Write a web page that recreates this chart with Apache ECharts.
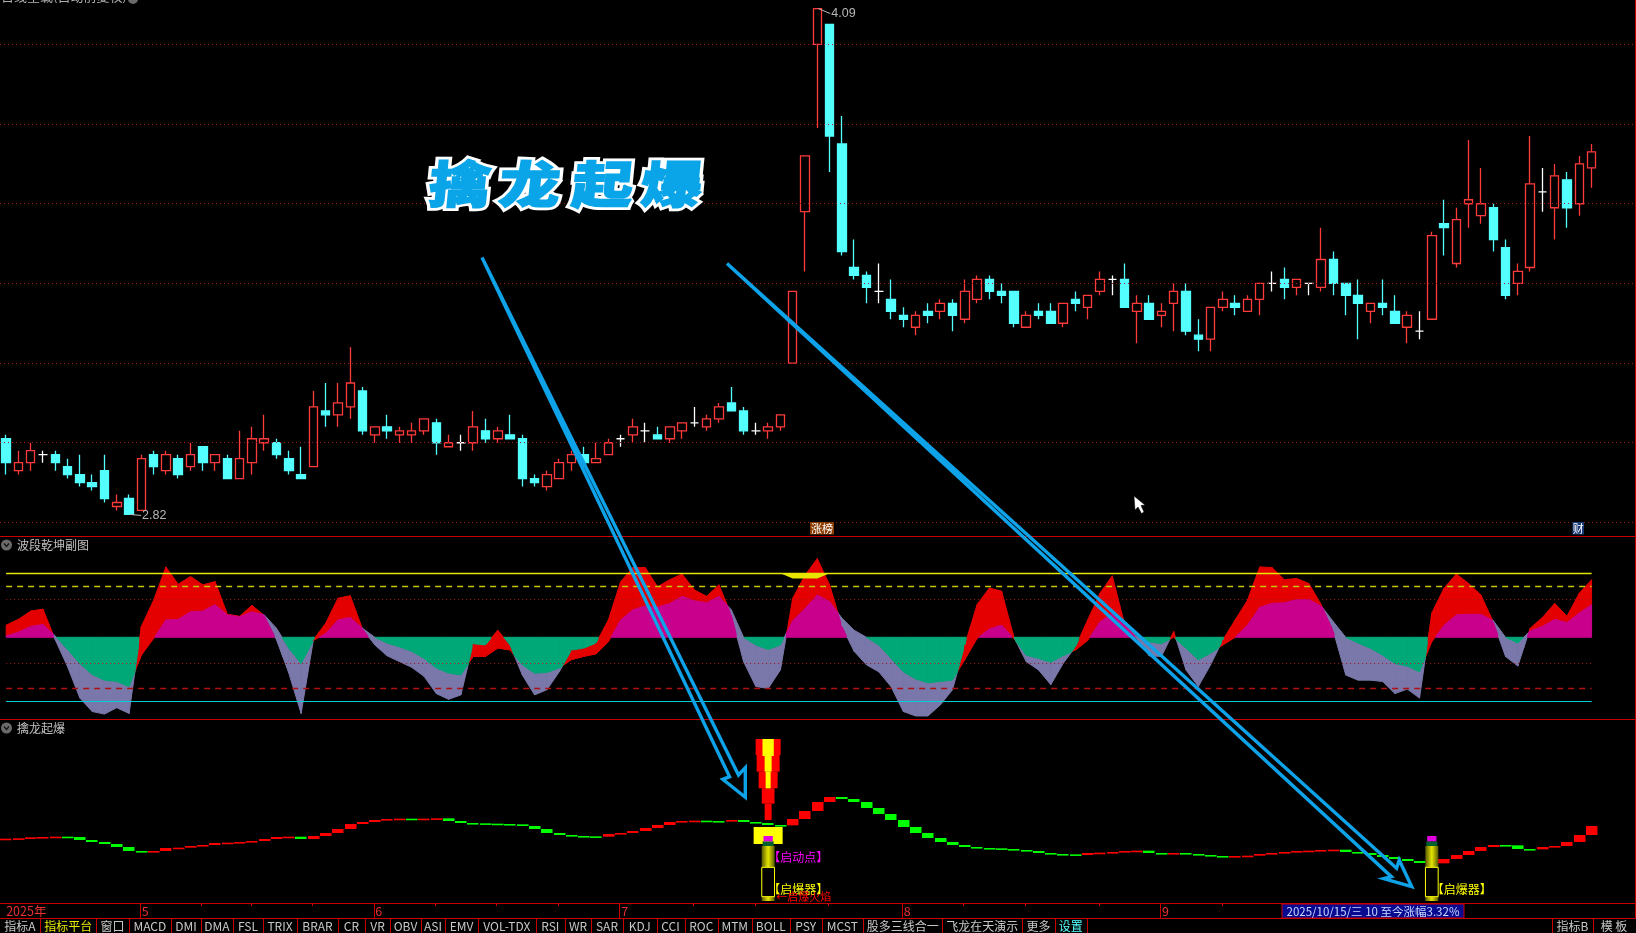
<!DOCTYPE html>
<html><head><meta charset="utf-8">
<style>html,body{margin:0;padding:0;background:#000;overflow:hidden}#c{width:1636px;height:933px}</style>
<script src="https://cdn.jsdelivr.net/npm/echarts@6/dist/echarts.min.js"></script>
</head><body><div id="c"></div>
<script>
// ---- price candles (in fen)
const openFen=[301,293,295,297,297,294,292,290,293,284,
286,283,297,293,296,294,299,295,296,291,
295,300,300,296,292,294,308,307,309,313,
302,304,302,302,303,305,299,300,300,303,
301,302,301,291,289,291,295,297,295,297,
301,302,303,302,301,303,305,304,306,310,
308,303,303,304,320,358,400,405,375,344,
342,338,336,332,329,333,333,335,331,336,
341,338,338,329,333,333,330,336,334,338,
341,341,333,335,332,335,338,327,326,334,
335,333,336,340,341,339,340,339,346,340,
337,333,335,333,329,328,331,355,345,360,
357,359,349,340,344,363,359,366,360,369];
const closeFen=[295,295,298,297,295,292,290,289,286,285,
282,296,294,297,292,297,295,297,291,296,
301,301,297,293,291,309,307,310,315,303,
304,303,303,303,306,300,300,300,304,301,
303,301,291,290,292,295,297,295,296,300,
301,304,303,301,304,305,305,306,309,308,
303,303,304,307,338,372,409,377,348,342,
339,338,333,331,332,332,335,332,338,341,
338,337,330,332,332,330,335,335,337,341,
341,334,335,331,333,338,328,326,334,336,
334,336,340,340,339,341,340,346,340,337,
335,335,334,330,332,328,352,354,356,361,
360,351,337,343,365,363,367,359,370,373];
const lowFen=[292,292,293,295,293,291,289,288,285,283,
282,283,292,292,291,293,293,293,291,291,
292,298,296,292,291,294,304,304,306,302,
300,301,300,300,302,297,299,298,298,300,
300,301,289,289,288,291,293,294,295,297,
299,300,300,301,300,301,304,303,305,308,
302,302,301,303,320,343,379,368,347,341,
335,335,331,329,327,330,331,328,330,335,
336,335,329,329,331,330,329,333,331,337,
337,334,325,331,329,328,327,323,323,333,
332,333,332,338,336,337,337,338,337,332,
326,330,332,330,325,326,331,347,344,354,
355,348,336,337,343,358,351,354,357,364];
const highFen=[302,298,300,298,298,296,297,292,297,287,
287,297,298,298,297,300,299,297,297,303,
304,307,301,298,299,313,315,315,324,314,
304,307,304,305,306,306,302,302,308,306,
304,307,302,292,293,296,298,299,300,301,
302,306,305,304,304,305,309,307,310,314,
309,305,305,307,338,372,409,405,382,351,
343,345,341,334,333,335,336,336,341,342,
342,340,338,333,335,335,335,338,337,343,
342,345,337,337,335,340,340,331,334,338,
337,337,340,343,344,341,340,354,348,340,
341,335,341,337,333,333,353,361,359,376,
369,360,351,345,377,369,370,368,372,375];
const priceLevels=[4.0,3.8,3.6,3.4,3.2,3.0,2.8];
const priceNoteIdx=[10,66];
const priceNoteValue=[2.82,4.09];
const priceNoteText=['2.82','4.09'];

// ---- 波段乾坤副图
const waveFast=[19,28,41,44,-4,-46,-95,-116,-120,-110,-119,17,58,110,83,95,82,87,36,33,50,34,-4,-56,-119,-4,22,61,65,13,
-12,-29,-38,-47,-61,-88,-97,-90,-10,-12,11,-12,-59,-90,-82,-54,-20,-17,-9,27,87,109,109,79,90,99,74,64,82,35,
-38,-77,-80,-51,61,97,123,82,17,-22,-43,-54,-77,-116,-123,-123,-106,-82,-12,51,77,72,0,-38,-51,-74,-41,-15,27,69,
96,21,-2,-29,-30,9,-51,-77,-43,-4,27,58,110,109,90,92,84,51,9,-59,-67,-67,-69,-88,-81,-95,38,77,99,84,
66,24,-30,-45,14,31,53,33,69,90];
const waveSlow=[2,8,17,20,2,-19,-41,-58,-67,-69,-77,-28,-2,27,28,40,41,51,35,32,40,35,14,-17,-41,-5,6,27,31,14,
0,-9,-15,-22,-33,-48,-56,-59,-30,-30,-17,-20,-43,-56,-55,-48,-35,-30,-26,-7,27,43,49,47,53,64,57,54,64,43,
0,-12,-19,-12,26,45,66,56,30,11,0,-12,-33,-54,-65,-71,-69,-67,-35,-2,13,19,-2,-28,-33,-39,-29,-20,-5,24,
38,22,1,-7,-10,0,-17,-35,-25,-12,0,19,47,53,54,59,59,49,24,0,-9,-17,-28,-41,-45,-54,-7,19,35,36,
36,26,0,-9,10,17,28,23,38,51];
const waveLevelsBack=[60,-40];
const waveLevelsFront=[100,80,-80,-100];
const patchIdx=[63,64,65,66,67];
const patchTop=[100,100,100,100,100];
const patchBottom=[100,92,92,92,100];

// ---- 擒龙起爆
const dragonLine=[193,194,197,198,199,198,189,183,177,168,156,155,156,165,166,171,174,180,181,183,186,192,198,199,192,201,210,222,237,243,
249,252,253,252,253,254,246,240,239,238,237,236,231,222,210,204,201,200,199,207,210,216,225,234,243,246,247,246,245,249,
243,240,234,233,252,276,303,318,312,303,285,267,249,228,210,195,183,174,168,165,164,162,159,156,150,147,146,144,150,151,
153,156,157,150,149,150,147,144,141,140,141,142,147,150,153,156,157,159,160,153,150,144,138,132,126,120,119,132,144,156,
168,174,173,162,161,168,171,183,204,231];
const flameIdx=[62,62,62,62,62,62,62,62];
const flameLow=[444,394,344,298,249,441,394,344];
const flameHigh=[492,444,394,344,298,492,441,394];
const capIdx=[62];
const capLow=[177];
const capHigh=[228];
const fuseIdx=[62,116];
const fuseGoldLow=[6,6];
const fuseGoldHigh=[171,171];
const fuseBoxLow=[19,19];
const fuseBoxHigh=[107,107];
const fuseTipLow=[171,171];
const fuseTipHigh=[185,185];
const fuseTopLow=[185,185];
const fuseTopHigh=[201,201];
const signalNoteIdx=[62,62,62,116];
const signalNoteValue=[138,42,19,42];
const signalNoteText=['【启动点】','【启爆器】','←启爆火焰','【启爆器】'];

// ---- axis and labels
const categoryCount=133;
const monthLabelIdx=[0,11,30,50,73,94];
const monthLabelText=['2025年','5','6','7','8','9'];
const monthTickIdx=[11,30,50,73,94,104];
const weekTickIdx=[16,20,25,35,40,45,56,61,67,78,83,89,99];
const tabLabels=['指标A','指标平台','窗口','MACD','DMI','DMA','FSL','TRIX','BRAR','CR','VR','OBV','ASI','EMV','VOL-TDX','RSI','WR','SAR','KDJ','CCI','ROC','MTM','BOLL','PSY','MCST','股多三线合一','飞龙在天演示','更多','设置'];
const tabEdges=[0,40,96.3,128.6,171,200.8,233,263,297,338,365,390,421,445,478,535.5,565,591,623,656.5,684.5,718,751.5,790,821.5,863,942.3,1022,1055,1086.5];
const rightTabLabels=['指标B','模 板'];
const rightTabEdges=[1552,1593,1635];
const rangeText='2025/10/15/三 10 至今涨幅3.32%';

// ---- styles
const CJK='"Noto Sans CJK SC","Liberation Sans",sans-serif';
const RED_LINE='#c80000', GRID_DOT='#a81616';
const cats=Array.from({length:categoryCount},(_,i)=>String(i));
const candleData=openFen.map((o,i)=>[o/100,closeFen[i]/100,lowFen[i]/100,highFen[i]/100]);
const gridLeft=-2,gridWidth=1636.6;

function hiddenX(idx,extra){return Object.assign({type:'category',gridIndex:idx,data:cats,boundaryGap:true,
  axisLine:{show:false},axisTick:{show:false},axisLabel:{show:false},splitLine:{show:false}},extra||{});}
function hiddenY(idx,min,max){return {type:'value',gridIndex:idx,min,max,show:false,splitLine:{show:false}};}

// wave band drawing: split a segment where lines cross each other or zero
function waveItem(params,api){
  const i=params.dataIndex;
  const a0=waveFast[i],a1=waveFast[i+1],b0=waveSlow[i],b1=waveSlow[i+1];
  const x0=api.coord([i,0])[0],x1=api.coord([i+1,0])[0];
  const y=v=>api.coord([i,v])[1];
  const ts=[0,1];
  const cross=(p,q)=>{if(p*q<0)ts.push(p/(p-q));};
  cross(a0-b0,a1-b1);cross(a0,a1);cross(b0,b1);
  ts.sort((m,n)=>m-n);
  const kids=[];
  const poly=(pts,c)=>kids.push({type:'polygon',shape:{points:pts},style:{fill:c,stroke:c,lineWidth:1}});
  for(let k=0;k<ts.length-1;k++){
    const t0=ts[k],t1=ts[k+1];if(t1-t0<1e-6)continue;
    const A=t=>a0+(a1-a0)*t,B=t=>b0+(b1-b0)*t,X=t=>x0+(x1-x0)*t;
    const tm=(t0+t1)/2,am=A(tm),bm=B(tm);
    poly([[X(t0),y(A(t0))],[X(t1),y(A(t1))],[X(t1),y(B(t1))],[X(t0),y(B(t0))]],am>=bm?'#e40000':'#7a78aa');
    if(am>0&&bm>0){
      const useA=am<bm;const F=useA?A:B;
      poly([[X(t0),y(0)],[X(t1),y(0)],[X(t1),y(F(t1))],[X(t0),y(F(t0))]],'#c8008c');
    }else if(am<0&&bm<0){
      const useA=am>bm;const F=useA?A:B;
      poly([[X(t0),y(0)],[X(t1),y(0)],[X(t1),y(F(t1))],[X(t0),y(F(t0))]],'#00a878');
    }
  }
  return {type:'group',children:kids};
}
// one stick between two values, at a category, with a given pixel width
function stick(api,idx,lo,hi,w,style){
  const c0=api.coord([idx,lo]),c1=api.coord([idx,hi]);
  return {type:'rect',shape:{x:c0[0]-w/2,y:c1[1],width:w,height:c0[1]-c1[1]},style};
}
const flameStyle=[['#ff0000',25],['#ff0000',23],['#ff0000',19],['#ff0000',12.7],['#ff0000',7],['#ffff00',11.3],['#ffff00',7],['#ffff00',5]];
const goldFill=new echarts.graphic.LinearGradient(0,0,1,0,[{offset:0,color:'#5a5a00'},{offset:0.5,color:'#e6e600'},{offset:1,color:'#5a5a00'}]);
const noteStyle=[['#ff00ff',0],['#ffff00',0],['#ff0000',8],['#ffff00',0]];

const option={
  animation:false,backgroundColor:'#000',
  grid:[
    {left:gridLeft,width:gridWidth,top:0,height:536},
    {left:gridLeft,width:gridWidth,top:536,height:183},
    {left:gridLeft,width:gridWidth,top:719,height:184},
    {left:gridLeft,width:gridWidth,top:903,height:15}
  ],
  xAxis:[hiddenX(0),hiddenX(1),hiddenX(2),hiddenX(3)],
  yAxis:[hiddenY(0,2.7659,4.1115),hiddenY(1,-127.7,158.3),hiddenY(2,0,552),hiddenY(3,0,1)],
  series:[
    {type:'line',xAxisIndex:0,yAxisIndex:0,data:[],z:1,silent:true,
      markLine:{silent:true,symbol:'none',animation:false,label:{show:false},
        lineStyle:{color:GRID_DOT,type:[1,3],width:1},data:priceLevels.map(v=>({yAxis:v}))}},
    {type:'candlestick',xAxisIndex:0,yAxisIndex:0,data:candleData,barWidth:9,z:2,
      itemStyle:{color:'#000',color0:'#54ffff',borderColor:'#ff3a3a',borderColor0:'#54ffff',borderColorDoji:'#ffffff',borderWidth:1.3}},
    {type:'custom',xAxisIndex:0,yAxisIndex:0,z:3,data:priceNoteIdx.map(i=>[i]),clip:false,silent:true,
      renderItem(params,api){const k=params.dataIndex;const c=api.coord([priceNoteIdx[k],priceNoteValue[k]]);
        const dx=k===0?13:14,dy=k===0?1:5;
        return {type:'group',children:[
          {type:'line',shape:{x1:c[0]+1,y1:c[1],x2:c[0]+dx-1,y2:c[1]+dy},style:{stroke:'#b8b8b8',lineWidth:1}},
          {type:'text',x:c[0]+dx,y:c[1]+dy,style:{text:priceNoteText[k],fill:'#b8b8b8',font:'12.5px "Liberation Sans"',verticalAlign:'middle'}}]};}},

    {type:'line',xAxisIndex:1,yAxisIndex:1,data:[],z:1,silent:true,
      markLine:{silent:true,symbol:'none',animation:false,label:{show:false},
        lineStyle:{color:GRID_DOT,type:[1,3],width:1},
        data:waveLevelsBack.map(v=>[{coord:[0,v]},{coord:[129,v]}])}},
    {type:'custom',xAxisIndex:1,yAxisIndex:1,z:2,clip:false,silent:true,data:waveFast.slice(0,-1).map((v,i)=>[i,v]),renderItem:waveItem},
    {type:'custom',xAxisIndex:1,yAxisIndex:1,z:3,clip:false,silent:true,data:[[patchIdx[0],patchTop[0]]],
      renderItem(params,api){
        const pts=patchIdx.map((x,k)=>api.coord([x,patchTop[k]])).concat(patchIdx.map((x,k)=>api.coord([x,patchBottom[k]])).reverse());
        return {type:'polygon',shape:{points:pts},style:{fill:'#e6e600'}};}},
    {type:'line',xAxisIndex:1,yAxisIndex:1,data:[],z:4,silent:true,
      markLine:{silent:true,symbol:'none',animation:false,label:{show:false},
        data:waveLevelsFront.map((v,k)=>{
          const st=[{color:'#e6e600',type:'solid',width:1.3},{color:'#c8c800',type:[6,5],width:1.3},{color:'#b01010',type:[6,5],width:1.3},{color:'#00d0d8',type:'solid',width:1.2}][k];
          return [{coord:[0,v],lineStyle:st},{coord:[129,v]}];})}},

    {type:'custom',xAxisIndex:2,yAxisIndex:2,z:2,clip:false,silent:true,data:dragonLine.map((v,i)=>[i,v]),
      renderItem(params,api){const i=params.dataIndex;const cur=dragonLine[i];const prev=i?dragonLine[i-1]:cur;
        const c=api.coord([i,cur]),p=api.coord([i,prev]);
        const top=Math.min(c[1],p[1]);let h=Math.abs(c[1]-p[1]);if(h<1.6)h=1.6;
        const up=i===0?true:cur>prev;
        return {type:'rect',shape:{x:Math.round(c[0]-5.7),y:top,width:11.5,height:h},style:{fill:up?'#ff0000':'#00ff00'}};}},
    {type:'custom',xAxisIndex:2,yAxisIndex:2,z:3,clip:false,silent:true,data:[[62,0]],
      renderItem(params,api){
        const kids=[];
        capIdx.forEach((x,k)=>kids.push(stick(api,x,capLow[k],capHigh[k],29,{fill:'#ffff00'})));
        flameIdx.forEach((x,k)=>kids.push(stick(api,x,flameLow[k],flameHigh[k],flameStyle[k][1],{fill:flameStyle[k][0]})));
        fuseIdx.forEach((x,k)=>{
          kids.push(stick(api,x,fuseGoldLow[k],fuseGoldHigh[k],13,{fill:goldFill}));
          kids.push(stick(api,x,fuseTipLow[k],fuseTipHigh[k],11,{fill:'#006030'}));
          kids.push(stick(api,x,fuseTopLow[k],fuseTopHigh[k],9.3,{fill:'#e000e0'}));
          kids.push(stick(api,x,fuseBoxLow[k],fuseBoxHigh[k],12.7,{fill:'#000',stroke:'#ffff00',lineWidth:1}));
        });
        return {type:'group',children:kids};}},
    {type:'custom',xAxisIndex:2,yAxisIndex:2,z:4,clip:false,silent:true,data:signalNoteIdx.map(i=>[i]),
      renderItem(params,api){const k=params.dataIndex;const c=api.coord([signalNoteIdx[k],signalNoteValue[k]]);
        return {type:'text',x:c[0]+noteStyle[k][1],y:c[1],style:{text:signalNoteText[k],fill:noteStyle[k][0],font:(k===2?'11px ':'12px ')+CJK,verticalAlign:'middle'}};}},
    // time row: month separators, week ticks, month labels
    {type:'custom',xAxisIndex:3,yAxisIndex:3,z:3,clip:false,silent:true,data:[[0,0]],
      renderItem(params,api){
        const kids=[];
        const top=api.coord([0,1])[1],bot=api.coord([0,0])[1];
        const ln=(x,y2)=>kids.push({type:'line',shape:{x1:Math.round(x)+0.5,y1:top,x2:Math.round(x)+0.5,y2},style:{stroke:RED_LINE,lineWidth:1}});
        monthTickIdx.forEach(i=>ln(api.coord([i,0])[0]-1.3,bot));
        weekTickIdx.forEach(i=>ln(api.coord([i,0])[0]-1.3,top+3));
        monthLabelIdx.forEach((i,k)=>kids.push({type:'text',x:api.coord([i,0])[0]+(k===0?0:0.5),y:(top+bot)/2+0.5,
          style:{text:monthLabelText[k],fill:'#e83030',font:'12.5px '+CJK,verticalAlign:'middle'}}));
        return {type:'group',children:kids};}}
  ],
  graphic:buildGraphic()
};

function buildGraphic(){
  const g=[];
  const hline=(y,x1,x2,c)=>g.push({type:'line',z:5,shape:{x1,y1:y,x2,y2:y},style:{stroke:c||RED_LINE,lineWidth:1}});
  const vline=(x,y1,y2,c)=>g.push({type:'line',z:5,shape:{x1:x,y1,x2:x,y2},style:{stroke:c||RED_LINE,lineWidth:1}});
  const txt=(t,x,y,c,size,align,z)=>g.push({type:'text',z:z||6,x,y,style:{text:t,fill:c,font:size+'px '+CJK,align:align||'left',verticalAlign:'middle'}});
  hline(536.5,0,1636);hline(719.5,0,1636);hline(903.5,0,1636);hline(918.5,0,1636);
  vline(1635.5,0,918);
  // tabs
  tabLabels.forEach((t,i)=>{
    const x1=tabEdges[i],x2=tabEdges[i+1];
    vline(Math.round(x2)+0.5,918,933);
    const col=t==='指标平台'?'#e8e800':t==='设置'?'#54ffff':'#c8c8c8';
    txt(t,(x1+x2)/2,926,col,12,'center');
  });
  rightTabLabels.forEach((t,i)=>{
    const x1=rightTabEdges[i],x2=rightTabEdges[i+1];
    vline(Math.round(x1)+0.5,918,933);
    txt(t,(x1+x2)/2,926,'#c8c8c8',12,'center');
  });
  // range box
  g.push({type:'rect',z:6,shape:{x:1282,y:904,width:182,height:14},style:{fill:'#0a0a90',stroke:RED_LINE,lineWidth:1}});
  txt(rangeText,1373,911.5,'#c8d8ff',11.5,'center',7);
  // panel titles
  const head=(y,t)=>{
    g.push({type:'circle',z:6,shape:{cx:6.5,cy:y,r:5.5},style:{fill:'#6a6a6a'}});
    g.push({type:'polyline',z:7,shape:{points:[[4,y-1.5],[6.5,y+1.5],[9,y-1.5]]},style:{stroke:'#111',lineWidth:1.2,fill:'none'}});
    txt(t,17,y,'#c0c0c0',12);
  };
  head(545,'波段乾坤副图');head(728,'擒龙起爆');
  txt('日线星载(自动前复权)',1,-4,'#b0b0b0',13);
  g.push({type:'circle',z:6,shape:{cx:133,cy:-1,r:5},style:{fill:'#6a6a6a'}});
  // badges
  g.push({type:'rect',z:6,shape:{x:810,y:522,width:24,height:12.5},style:{fill:'#8a3c00'}});
  txt('涨榜',822,528.5,'#ffffff',11,'center',7);
  g.push({type:'rect',z:6,shape:{x:1572.5,y:522,width:11.5,height:12.5},style:{fill:'#1a3a78'}});
  txt('财',1578.2,528.5,'#ffffff',11,'center',7);
  // hand-drawn arrows
  const arrowStyle={stroke:'#0ea2e8',lineWidth:3.4,fill:'none',lineJoin:'miter'};
  g.push({type:'polygon',z:8,shape:{points:[[482,257.6],[729.6,776.7],[722.8,779.3],[745.3,797.3],[745.3,767.7],[738.5,775]]},style:arrowStyle});
  g.push({type:'polygon',z:8,shape:{points:[[727,263.4],[1391.4,876.7],[1383.6,878.7],[1411.7,886.7],[1399.2,860],[1396.6,868.3]]},style:arrowStyle});
  // cursor
  g.push({type:'polygon',z:9,shape:{points:[[1134,496],[1135,510],[1138,507],[1141.5,513.5],[1144,512],[1141,505.5],[1145,505]]},style:{fill:'#fff',stroke:'#000',lineWidth:0.5}});
  // big title
  [['擒',460],['龙',530],['起',603],['爆',672]].forEach(([t,x])=>{
    const base={type:'text',x,y:184,scaleX:1.22,skewX:-0.1};
    g.push(Object.assign({},base,{z:10,style:{text:t,fill:'#fff',stroke:'#fff',lineWidth:7,font:'900 50px "Noto Sans CJK SC"',align:'center',verticalAlign:'middle'}}));
    g.push(Object.assign({},base,{z:11,style:{text:t,fill:'#0aa5e8',stroke:'#0aa5e8',lineWidth:1.5,font:'900 50px "Noto Sans CJK SC"',align:'center',verticalAlign:'middle'}}));
  });
  return g;
}
echarts.init(document.getElementById('c'),null,{renderer:'canvas',width:1636,height:933}).setOption(option);
</script></body></html>
